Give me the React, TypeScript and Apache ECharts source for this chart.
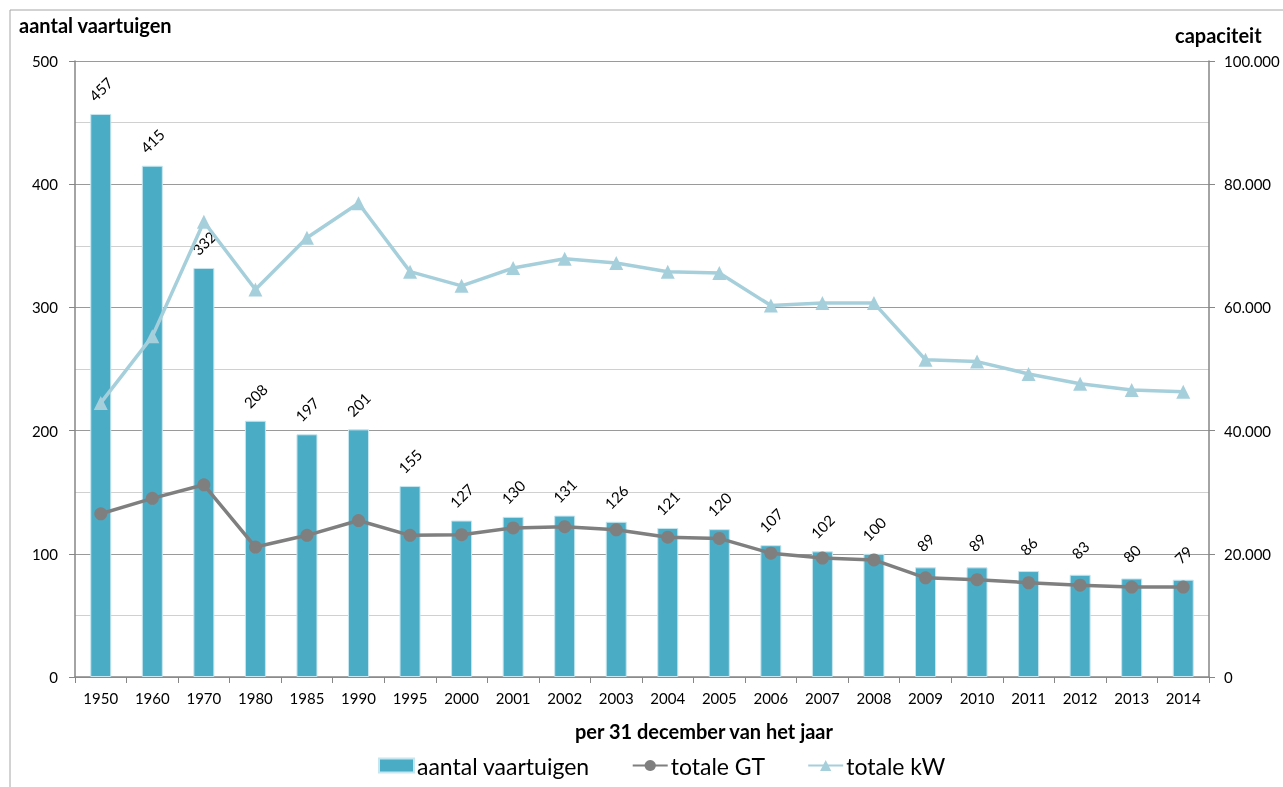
import React, { useEffect, useRef } from "react";
import * as echarts from "echarts";

const years = ["1950","1960","1970","1980","1985","1990","1995","2000","2001","2002","2003","2004","2005","2006","2007","2008","2009","2010","2011","2012","2013","2014"];
const vessels = [457,415,332,208,197,201,155,127,130,131,126,121,120,107,102,100,89,89,86,83,80,79];
const totalGT = [26500,29000,31200,21100,23000,25400,23000,23100,24200,24400,23900,22700,22500,20100,19300,19000,16100,15800,15300,14900,14600,14600];
const totalKW = [44500,55300,73900,62900,71300,76900,65800,63500,66400,67900,67200,65800,65600,60300,60700,60700,51500,51200,49200,47600,46600,46300];

const FONT = "Lato, 'Open Sans', sans-serif";

export default function App() {
  const ref = useRef<HTMLDivElement>(null);
  useEffect(() => {
    document.body.style.margin = "0";
    const chart = echarts.init(ref.current!, null, { renderer: "svg" });
    chart.setOption({
      animation: false,
      textStyle: { fontFamily: FONT },
      grid: { left: 75, right: 74, top: 61, bottom: 110, containLabel: false },
      graphic: [
        { type: "rect", shape: { x: 10, y: 10, width: 1300, height: 800 }, style: { fill: "none", stroke: "#a6a6a6", lineWidth: 1 }, silent: true },
        { type: "text", left: 19, top: 15, style: { text: "aantal vaartuigen", font: `bold 20px ${FONT}`, fill: "#000" } },
        { type: "text", left: 1175, top: 25, style: { text: "capaciteit", font: `bold 20px ${FONT}`, fill: "#000" } },
        { type: "text", left: 575, top: 721, style: { text: "per 31 december van het jaar", font: `bold 20px ${FONT}`, fill: "#000" } },
      ],
      legend: {
        left: 378, top: 754, padding: 0, itemWidth: 35, itemHeight: 14, itemGap: 42,
        textStyle: { fontSize: 23, color: "#000", fontFamily: FONT, padding: [0, 0, 0, -2] },
        data: [
          { name: "aantal vaartuigen", icon: "rect" },
          { name: "totale GT" },
          { name: "totale kW" },
        ],
      },
      xAxis: {
        type: "category", data: years, boundaryGap: true,
        axisLine: { lineStyle: { color: "#868686", width: 1.5 } },
        axisTick: { show: true, alignWithLabel: false, length: 6, lineStyle: { color: "#868686" } },
        axisLabel: { color: "#000", fontSize: 15, margin: 13, interval: 0 },
      },
      yAxis: [
        {
          type: "value", min: 0, max: 500, interval: 100,
          axisLine: { show: true, lineStyle: { color: "#868686", width: 1.5 } },
          axisTick: { show: true, length: 6, lineStyle: { color: "#868686" } },
          axisLabel: { color: "#000", fontSize: 15, margin: 17 },
          splitLine: { show: true, lineStyle: { color: "#9a9a9a", width: 1 } },
          minorTick: { show: false, splitNumber: 2 },
          minorSplitLine: { show: true, lineStyle: { color: "#d0d0d0", width: 1 } },
        },
        {
          type: "value", min: 0, max: 100000, interval: 20000,
          axisLine: { show: true, lineStyle: { color: "#868686", width: 1.5 } },
          axisTick: { show: true, length: 6, lineStyle: { color: "#868686" } },
          axisLabel: { color: "#000", fontSize: 15, margin: 15, formatter: (v: number) => v.toString().replace(/\B(?=(\d{3})+(?!\d))/g, ".") },
          splitLine: { show: false },
        },
      ],
      series: [
        {
          name: "aantal vaartuigen", type: "bar", data: vessels, barWidth: 21, yAxisIndex: 0,
          itemStyle: { color: "#4BACC6", borderColor: "#c7e6ef", borderWidth: 1 },
          label: { show: true, position: "top", distance: 25, rotate: 45, align: "center", verticalAlign: "middle", fontSize: 15, color: "#000" },
          z: 1,
        },
        {
          name: "totale GT", type: "line", data: totalGT, yAxisIndex: 1,
          symbol: "circle", symbolSize: 13,
          lineStyle: { color: "#7f7f7f", width: 3.5 }, itemStyle: { color: "#7f7f7f" },
          z: 3,
        },
        {
          name: "totale kW", type: "line", data: totalKW, yAxisIndex: 1,
          symbol: "triangle", symbolSize: 14,
          lineStyle: { color: "#a6cfdc", width: 3.5 }, itemStyle: { color: "#a6cfdc" },
          z: 2,
        },
      ],
    });
    return () => chart.dispose();
  }, []);
  return <div ref={ref} style={{ position: "fixed", left: 0, top: 0, width: 1283, height: 787 }} />;
}
